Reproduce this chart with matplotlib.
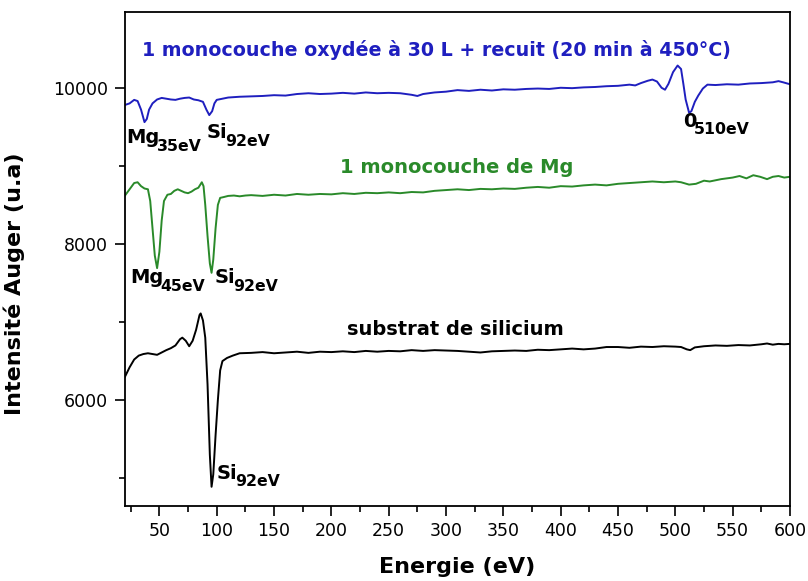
import matplotlib
matplotlib.use("Agg")
import matplotlib.pyplot as plt
from matplotlib.ticker import MultipleLocator

# Auger spectra: energy (eV) and intensity (a.u.)
e_sub = [20, 24, 28, 32, 36, 40, 44, 48, 52, 56, 60, 64, 68, 70, 73, 76, 79, 82, 85, 86,
         88, 90, 92, 94, 95.5, 97, 99, 101, 103, 105, 109, 114, 120, 130, 140, 150, 160,
         170, 180, 190, 200, 210, 220, 230, 240, 250, 260, 270, 280, 290, 300, 310, 320,
         330, 340, 350, 360, 370, 380, 390, 400, 410, 420, 430, 440, 450, 460, 470, 480,
         490, 500, 505, 510, 513, 517, 525, 535, 545, 555, 565, 575, 580, 585, 590, 595, 600]
i_sub = [6300, 6420, 6520, 6570, 6590, 6600, 6590, 6580, 6610, 6640, 6665, 6700, 6780, 6800,
         6760, 6690, 6760, 6900, 7090, 7110, 7020, 6800, 6200, 5300, 4890, 5050, 5550, 6000,
         6380, 6500, 6540, 6570, 6600, 6605, 6615, 6600, 6610, 6620, 6605, 6620, 6615, 6625,
         6615, 6630, 6620, 6630, 6625, 6640, 6630, 6640, 6635, 6630, 6620, 6610, 6625, 6630,
         6635, 6630, 6645, 6640, 6650, 6660, 6650, 6660, 6680, 6680, 6670, 6685, 6680, 6690,
         6685, 6680, 6650, 6640, 6675, 6690, 6700, 6695, 6705, 6700, 6715, 6725, 6710, 6720,
         6715, 6720]

e_mg = [20, 24, 28, 31, 34, 37, 40, 42, 44, 46, 48, 50, 52, 54, 57, 60, 63, 66, 69, 72, 75,
        78, 81, 84, 87, 88.5, 90, 92, 94, 95.5, 97, 99, 101, 103, 106, 110, 115, 120, 125,
        130, 140, 150, 160, 170, 180, 190, 200, 210, 220, 230, 240, 250, 260, 270, 280, 290,
        300, 310, 320, 330, 340, 350, 360, 370, 380, 390, 400, 410, 420, 430, 440, 450, 460,
        470, 480, 490, 500, 505, 512, 518, 525, 530, 540, 550, 556, 562, 568, 574, 580, 585,
        590, 595, 600]
i_mg = [8620, 8700, 8780, 8790, 8740, 8710, 8700, 8550, 8200, 7850, 7690, 7900, 8300, 8550,
        8630, 8640, 8680, 8700, 8680, 8660, 8650, 8670, 8700, 8720, 8790, 8740, 8500, 8100,
        7750, 7630, 7800, 8200, 8500, 8590, 8600, 8615, 8620, 8610, 8620, 8625, 8615, 8630,
        8620, 8640, 8630, 8640, 8635, 8650, 8640, 8655, 8650, 8660, 8650, 8665, 8660, 8680,
        8690, 8700, 8690, 8705, 8700, 8710, 8705, 8720, 8730, 8720, 8740, 8735, 8750, 8760,
        8750, 8770, 8780, 8790, 8800, 8790, 8800, 8790, 8760, 8770, 8810, 8800, 8830, 8850,
        8870, 8840, 8880, 8860, 8830, 8860, 8870, 8850, 8860]

e_ox = [20, 24, 28, 31, 34, 37, 39, 41, 44, 48, 52, 56, 60, 64, 68, 72, 76, 80, 84, 88, 91,
        93.5, 96, 98, 100, 105, 110, 120, 130, 140, 150, 160, 170, 180, 190, 200, 210, 220,
        230, 240, 250, 260, 270, 275, 280, 290, 300, 310, 320, 330, 340, 350, 360, 370, 380,
        390, 400, 410, 420, 430, 440, 450, 460, 465, 470, 476, 480, 484, 488, 491, 494, 498,
        502, 505, 507, 509, 512, 514, 517, 520, 524, 528, 535, 545, 555, 565, 575, 585, 590,
        594, 600]
i_ox = [9780, 9800, 9845, 9830, 9720, 9560, 9600, 9720, 9800, 9850, 9870, 9860, 9850, 9845,
        9860, 9870, 9875, 9850, 9840, 9820, 9720, 9650, 9700, 9800, 9845, 9860, 9875, 9885,
        9890, 9895, 9905, 9900, 9920, 9930, 9920, 9925, 9935, 9925, 9940, 9930, 9935, 9930,
        9910, 9895, 9920, 9940, 9950, 9970, 9960, 9975, 9965, 9980, 9975, 9985, 9990, 9985,
        10000, 9995, 10005, 10010, 10020, 10025, 10040, 10030, 10060, 10090, 10105, 10080,
        10000, 9975, 10050, 10200, 10285, 10240, 10050, 9850, 9680, 9700, 9820, 9900, 9990,
        10040, 10035, 10045, 10040, 10055, 10060, 10070, 10085, 10070, 10045]

# Peak labels: (energy position, intensity position, element, subscript)
peak_x = [21, 91.5, 506.7, 24.4, 98.5, 100.2]
peak_y = [9291, 9355, 9504, 7496, 7496, 4996]
peak_main = ["Mg", "Si", "0", "Mg", "Si", "Si"]
peak_sub = ["35eV", "92eV", "510eV", "45eV", "92eV", "92eV"]

BLUE = "#1f1fbf"
GREEN = "#2a8a2a"

fig = plt.figure(figsize=(8.08, 5.81), dpi=100)
ax = fig.add_axes([0.1547, 0.1299, 0.8230, 0.8494])

ax.plot(e_sub, i_sub, color="black", lw=1.4)
ax.plot(e_mg, i_mg, color=GREEN, lw=1.4)
ax.plot(e_ox, i_ox, color=BLUE, lw=1.4)

ax.set_xlim(20, 600)
ax.set_ylim(4650, 10970)
ax.xaxis.set_major_locator(MultipleLocator(50))
ax.xaxis.set_minor_locator(MultipleLocator(25))
ax.yaxis.set_major_locator(MultipleLocator(2000))
ax.yaxis.set_minor_locator(MultipleLocator(1000))
ax.tick_params(which="major", direction="out", length=7, width=1.2, labelsize=12.5, pad=5)
ax.tick_params(which="minor", direction="out", length=4, width=1.2)
for sp in ax.spines.values():
    sp.set_linewidth(1.3)

ax.set_xlabel("Energie (eV)", fontsize=16, fontweight="bold")
ax.set_ylabel("Intensité Auger (u.a)", fontsize=16, fontweight="bold")
ax.xaxis.set_label_coords(0.5, -0.105)
ax.yaxis.set_label_coords(-0.15, 0.45)

ax.text(34.8, 10410, "1 monocouche oxydée à 30 L + recuit (20 min à 450°C)",
        color=BLUE, va="baseline", ha="left", fontsize=13.7, fontweight="bold")
ax.text(207.5, 8906, "1 monocouche de Mg", color=GREEN, va="baseline", ha="left",
        fontsize=14, fontweight="bold")
ax.text(213.6, 6833, "substrat de silicium", color="black", va="baseline", ha="left",
        fontsize=14, fontweight="bold")

fig.canvas.draw()
for x, y, m, s in zip(peak_x, peak_y, peak_main, peak_sub):
    t = ax.text(x, y, m, fontsize=14, fontweight="bold", color="black",
                va="baseline", ha="left")
    ax.annotate(s, xy=(1, 0), xycoords=t, xytext=(-1.8, -2.8),
                textcoords="offset points", fontsize=11.3, fontweight="bold",
                color="black", va="baseline", ha="left")

fig.savefig("out.png", dpi=100)
